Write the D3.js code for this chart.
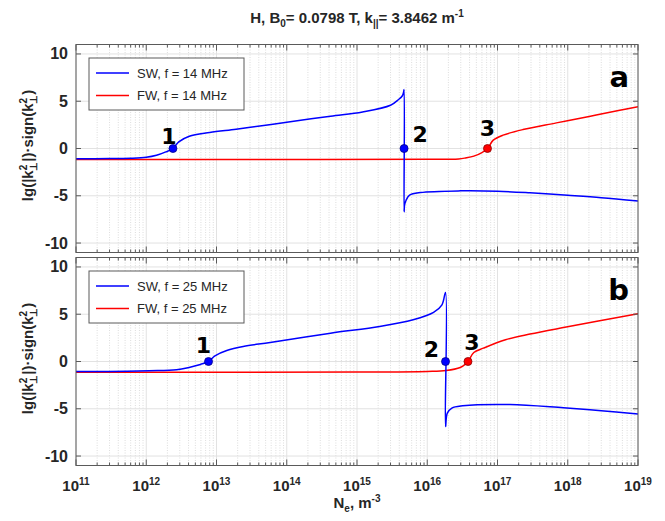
<!DOCTYPE html>
<html>
<head>
<meta charset="utf-8">
<script src="https://cdn.jsdelivr.net/npm/d3@7"></script>
<style>
  body { margin: 0; background: #fff; }
  svg { display: block; }
</style>
</head>
<body>
<svg id="fig" width="665" height="521"></svg>
<script>

// x ticks (decades of Ne) and y ticks
var xDecades = [1e11, 1e12, 1e13, 1e14, 1e15, 1e16, 1e17, 1e18, 1e19];
var xExponents = ['11', '12', '13', '14', '15', '16', '17', '18', '19'];
var yTicks = [-10, -5, 0, 5, 10];

// panel a, f = 14 MHz : [Ne, lg(|k_perp^2|)*sign(k_perp^2)]
var sw14 = [[1e11, -1.08], [3e11, -1.07], [6e11, -1.03], [1e12, -0.93], [1.4e12, -0.72],
  [1.9e12, -0.36], [2.4e12, 0.0], [2.9e12, 0.7], [4.1e12, 1.3], [8e12, 1.69], [1.9e13, 2.04],
  [5e13, 2.47], [1e14, 2.78], [4.2e14, 3.42], [1.2e15, 3.87], [3e15, 4.58], [3.9e15, 5.18],
  [4.4e15, 5.55], [4.6e15, 5.95], [4.68e15, 6.24], [4.68e15, -6.7], [4.75e15, -6.0],
  [5e15, -5.47], [5.6e15, -4.94], [8e15, -4.66], [3e16, -4.48], [1e17, -4.52],
  [2.9e17, -4.69], [1e18, -4.95], [3e18, -5.2], [1e19, -5.55]];
var fw14 = [[1e11, -1.16], [1e14, -1.16], [1e16, -1.15], [2.8e16, -1.1], [3.5e16, -1.0],
  [4.6e16, -0.81], [6e16, -0.43], [7.2e16, 0.0], [8.7e16, 0.88], [1.2e17, 1.41],
  [2.3e17, 2.0], [6.9e17, 2.71], [2.1e18, 3.42], [5.5e18, 4.05], [1e19, 4.41]];

// panel b, f = 25 MHz
var sw25 = [[1e11, -1.05], [3e11, -1.05], [1.1e12, -0.98], [2.7e12, -0.88], [4.2e12, -0.6],
  [5.9e12, -0.31], [7.7e12, 0.0], [9.5e12, 0.6], [1.4e13, 1.16], [2.4e13, 1.59],
  [5.8e13, 2.01], [4.2e14, 3.0], [2.1e15, 3.7], [6.3e15, 4.41], [1.23e16, 5.19],
  [1.62e16, 6.0], [1.82e16, 7.3], [1.82e16, -6.88], [1.93e16, -5.46], [2.24e16, -4.93],
  [3.2e16, -4.69], [1.5e17, -4.55], [8.7e17, -4.9], [3e18, -5.2], [1e19, -5.54]];
var fw25 = [[1e11, -1.13], [1e15, -1.12], [1e16, -1.05], [1.86e16, -0.95], [2.95e16, -0.63],
  [3.5e16, -0.28], [3.8e16, 0.0], [4.6e16, 0.95], [6.3e16, 1.41], [1.3e17, 2.3],
  [2.9e17, 2.9], [9.5e17, 3.64], [1e19, 5.05]];

// marked cut-off / resonance points: [Ne, value, label]
var marks14 = [[2.4e12, 0, '1'], [4.68e15, 0, '2'], [7.2e16, 0, '3']];
var marks25 = [[7.7e12, 0, '1'], [1.82e16, 0, '2'], [3.8e16, 0, '3']];

var freqs = ['14', '25'];
var panelLetters = ['a', 'b'];

var svg = d3.select('#fig');
var left = 76, right = 638;
var panels = [
  { top: 44.5, bottom: 252.5, sw: sw14, fw: fw14, marks: marks14, xlabels: false,
    // label offsets from the marker, px
    off: [[-4, -5], [16, -7], [0, -13]] },
  { top: 257.5, bottom: 465.5, sw: sw25, fw: fw25, marks: marks25, xlabels: true,
    off: [[-5, -9], [-14, -5], [4, -12]] }
];

var x = d3.scaleLog().domain([1e11, 1e19]).range([left, right]);
var minorTicks = [];
xDecades.forEach(function (d, i) {
  if (i < xDecades.length - 1) {
    for (var m = 2; m <= 9; m++) minorTicks.push(d * m);
  }
});

var axisColor = '#5a5a5a';
var tickFont = "'Liberation Sans', Arial, sans-serif";
var markFont = "'DejaVu Sans', sans-serif";

panels.forEach(function (p, pi) {
  var y = d3.scaleLinear().domain([-11, 11]).range([p.bottom, p.top]);
  var g = svg.append('g');

  g.append('clipPath').attr('id', 'clip' + pi).append('rect')
    .attr('x', left).attr('y', p.top).attr('width', right - left).attr('height', p.bottom - p.top);

  // grid
  g.selectAll('.minor').data(minorTicks).enter().append('line')
    .attr('x1', function (d) { return x(d); }).attr('x2', function (d) { return x(d); })
    .attr('y1', p.top).attr('y2', p.bottom)
    .attr('stroke', '#d4d4d4').attr('stroke-width', 0.8).attr('stroke-dasharray', '1,1.5');
  g.selectAll('.major').data(xDecades).enter().append('line')
    .attr('x1', function (d) { return x(d); }).attr('x2', function (d) { return x(d); })
    .attr('y1', p.top).attr('y2', p.bottom)
    .attr('stroke', '#e2e2e2').attr('stroke-width', 1);
  g.selectAll('.hgrid').data(yTicks).enter().append('line')
    .attr('x1', left).attr('x2', right)
    .attr('y1', function (d) { return y(d); }).attr('y2', function (d) { return y(d); })
    .attr('stroke', '#e2e2e2').attr('stroke-width', 1);

  // curves
  var line = d3.line()
    .x(function (d) { return x(d[0]); })
    .y(function (d) { return y(d[1]); })
    .curve(d3.curveCatmullRom.alpha(0.5));
  var cg = g.append('g').attr('clip-path', 'url(#clip' + pi + ')');
  cg.append('path').datum(p.fw).attr('d', line)
    .attr('fill', 'none').attr('stroke', '#ff0000').attr('stroke-width', 1.5);
  cg.append('path').datum(p.sw).attr('d', line)
    .attr('fill', 'none').attr('stroke', '#0000ff').attr('stroke-width', 1.5);

  // marker points
  g.selectAll('.pt').data(p.marks).enter().append('circle')
    .attr('cx', function (d) { return x(d[0]); })
    .attr('cy', function (d) { return y(d[1]); })
    .attr('r', 4)
    .attr('fill', function (d) { return d[2] === '3' ? '#ff0000' : '#0000ff'; })
    .attr('stroke', function (d) { return d[2] === '3' ? '#8a0000' : '#00008a'; })
    .attr('stroke-width', 0.8);
  g.selectAll('.ptlab').data(p.marks).enter().append('text')
    .attr('x', function (d, i) { return x(d[0]) + p.off[i][0]; })
    .attr('y', function (d, i) { return y(d[1]) + p.off[i][1]; })
    .attr('text-anchor', 'middle')
    .style('font-family', markFont).style('font-weight', 'bold').style('font-size', '22px')
    .attr('fill', '#000')
    .text(function (d) { return d[2]; });

  // axes box and ticks
  g.append('rect').attr('x', left).attr('y', p.top)
    .attr('width', right - left).attr('height', p.bottom - p.top)
    .attr('fill', 'none').attr('stroke', axisColor).attr('stroke-width', 1);

  [p.top, p.bottom].forEach(function (yy, k) {
    var dir = k === 0 ? 1 : -1;
    g.selectAll('.mt' + k).data(minorTicks).enter().append('line')
      .attr('x1', function (d) { return x(d); }).attr('x2', function (d) { return x(d); })
      .attr('y1', yy).attr('y2', yy + dir * 3)
      .attr('stroke', axisColor).attr('stroke-width', 1);
    g.selectAll('.Mt' + k).data(xDecades).enter().append('line')
      .attr('x1', function (d) { return x(d); }).attr('x2', function (d) { return x(d); })
      .attr('y1', yy).attr('y2', yy + dir * 6)
      .attr('stroke', axisColor).attr('stroke-width', 1);
  });
  [left, right].forEach(function (xx, k) {
    var dir = k === 0 ? 1 : -1;
    g.selectAll('.yt' + k).data(yTicks).enter().append('line')
      .attr('x1', xx).attr('x2', xx + dir * 5)
      .attr('y1', function (d) { return y(d); }).attr('y2', function (d) { return y(d); })
      .attr('stroke', axisColor).attr('stroke-width', 1);
  });

  g.selectAll('.ylab').data(yTicks).enter().append('text')
    .attr('x', left - 8)
    .attr('y', function (d) { return y(d) + 5.5; })
    .attr('text-anchor', 'end')
    .style('font-family', tickFont).style('font-weight', 'bold').style('font-size', '16px')
    .attr('fill', '#262626')
    .text(function (d) { return d; });

  if (p.xlabels) {
    var xl = g.selectAll('.xlab').data(xDecades).enter().append('text')
      .attr('x', function (d) { return x(d); })
      .attr('y', p.bottom + 25)
      .attr('text-anchor', 'middle')
      .style('font-family', tickFont).style('font-weight', 'bold').style('font-size', '15px')
      .attr('fill', '#262626');
    xl.append('tspan').text('10');
    xl.append('tspan').attr('dy', -6).style('font-size', '10px')
      .text(function (d, i) { return xExponents[i]; });
  }

  // y axis label
  var yl = g.append('text')
    .attr('transform', 'translate(33,' + ((p.top + p.bottom) / 2 - 3) + ') rotate(-90)')
    .attr('text-anchor', 'middle')
    .style('font-family', tickFont).style('font-weight', 'bold').style('font-size', '15px')
    .attr('fill', '#262626');
  yl.append('tspan').text('lg(|k');
  yl.append('tspan').attr('dy', -6).style('font-size', '10px').text('2');
  yl.append('tspan').attr('dx', -6).attr('dy', 10).style('font-size', '10px').text('\u22a5');
  yl.append('tspan').attr('dy', -4).text('|)\u00b7sign(k');
  yl.append('tspan').attr('dy', -6).style('font-size', '10px').text('2');
  yl.append('tspan').attr('dx', -6).attr('dy', 10).style('font-size', '10px').text('\u22a5');
  yl.append('tspan').attr('dy', -4).text(')');

  // legend
  var lg = g.append('g');
  var lx = left + 13, ly = p.top + 13.5;
  lg.append('rect').attr('x', lx).attr('y', ly).attr('width', 155).attr('height', 52)
    .attr('fill', '#fff').attr('stroke', axisColor).attr('stroke-width', 1);
  [['SW', '#0000ff'], ['FW', '#ff0000']].forEach(function (s, k) {
    var ry = ly + 15 + k * 22.5;
    lg.append('line').attr('x1', lx + 7).attr('x2', lx + 40).attr('y1', ry).attr('y2', ry)
      .attr('stroke', s[1]).attr('stroke-width', 1.5);
    lg.append('text').attr('x', lx + 48).attr('y', ry + 4.5)
      .style('font-family', tickFont).style('font-size', '13px').attr('fill', '#262626')
      .text(s[0] + ', f = ' + freqs[pi] + ' MHz');
  });

  // panel letter
  g.append('text').attr('x', right - 9).attr('y', p.top + 42)
    .attr('text-anchor', 'end')
    .style('font-family', markFont).style('font-weight', 'bold').style('font-size', '29px')
    .attr('fill', '#000')
    .text(panelLetters[pi]);
});

// title
var t = svg.append('text').attr('x', (left + right) / 2).attr('y', 23)
  .attr('text-anchor', 'middle')
  .style('font-family', tickFont).style('font-weight', 'bold').style('font-size', '15px')
  .attr('fill', '#262626');
t.append('tspan').text('H, B');
t.append('tspan').attr('dy', 4).style('font-size', '10px').text('0');
t.append('tspan').attr('dy', -4).text('= 0.0798 T, k');
t.append('tspan').attr('dy', 4).style('font-size', '10px').text('||');
t.append('tspan').attr('dy', -4).text('= 3.8462 m');
t.append('tspan').attr('dy', -6).style('font-size', '10px').text('-1');

// x axis label
var xt = svg.append('text').attr('x', (left + right) / 2).attr('y', 508)
  .attr('text-anchor', 'middle')
  .style('font-family', tickFont).style('font-weight', 'bold').style('font-size', '15px')
  .attr('fill', '#262626');
xt.append('tspan').text('N');
xt.append('tspan').attr('dy', 4).style('font-size', '10px').text('e');
xt.append('tspan').attr('dy', -4).text(', m');
xt.append('tspan').attr('dy', -6).style('font-size', '10px').text('-3');

</script>
</body>
</html>
